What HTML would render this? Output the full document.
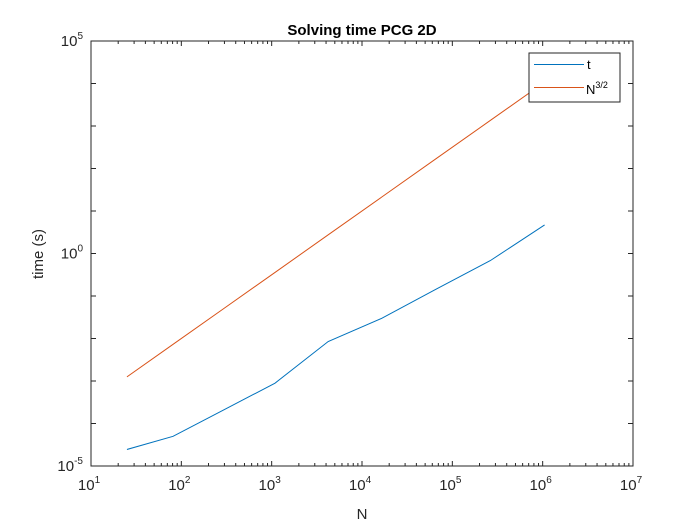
<!DOCTYPE html>
<html><head><meta charset="utf-8"><style>
body{margin:0;background:#fff;}
svg text{font-family:"Liberation Sans",Arial,sans-serif;}
</style></head><body>
<svg id="chart" width="700" height="525" xmlns="http://www.w3.org/2000/svg">
<rect width="700" height="525" fill="#ffffff"/>
<g id="plot"></g>
</svg>
<script>
const nValues=[25,81,289,1089,4225,16641,66049,263169,1050625];
const timeValues=[2.45e-5,5.0e-5,2.04e-4,8.9e-4,8.5e-3,3.0e-2,1.45e-1,6.8e-1,4.7];
const refValues=[1.25e-3,7.29e-3,4.91e-2,3.59e-1,2.75,21.5,170,1350,10770];
const xTickExps=[1,2,3,4,5,6,7];
const yTickExps=[-5,0,5];
const L=91,R=633,T=41,B=466;
const ns="http://www.w3.org/2000/svg";
const g=document.getElementById('plot');
function xs(v){return L+(Math.log10(v)-1)/6*(R-L);}
function ys(v){return B-(Math.log10(v)+5)/10*(B-T);}
function mk(t,a,p){const e=document.createElementNS(ns,t);for(const k in a)e.setAttribute(k,a[k]);(p||g).appendChild(e);return e;}
let e=mk('rect',{x:L,y:T,width:R-L,height:B-T,fill:'#fff',stroke:'#262626','stroke-width':1});


// x ticks
for(let d=1;d<=7;d++){for(let m=1;m<=9;m++){if(d==7&&m>1)break;const v=m*Math.pow(10,d);const x=xs(v);const len=m==1?5:3;
mk('line',{x1:x,y1:B,x2:x,y2:B-len,stroke:'#262626'});mk('line',{x1:x,y1:T,x2:x,y2:T+len,stroke:'#262626'});}}
for(let d=-5;d<=5;d++){const y=ys(Math.pow(10,d));mk('line',{x1:L,y1:y,x2:L+5,y2:y,stroke:'#262626'});mk('line',{x1:R,y1:y,x2:R-5,y2:y,stroke:'#262626'});}
xTickExps.forEach(d=>{const t=mk('text',{x:xs(Math.pow(10,d))-2,y:B+24,'font-size':15,'text-anchor':'middle',fill:'#262626'});


t.textContent='10';const s=mk('tspan',{dy:-7,'font-size':10},t);s.textContent=d;});
yTickExps.forEach(d=>{const t=mk('text',{x:L-8,y:ys(Math.pow(10,d))+5,'font-size':15,'text-anchor':'end',fill:'#262626'});


const a=mk('tspan',{},t);a.textContent='10';const s=mk('tspan',{dy:-7,'font-size':10},t);s.textContent=d;});
function series(vals,color,name){const p=mk('polyline',{points:nValues.map((n,i)=>xs(n)+','+ys(vals[i])).join(' '),fill:'none',stroke:color,'stroke-width':1});

}
series(refValues,'#d95319','series-n32');
series(timeValues,'#0072bd','series-t');
// legend
const lg=mk('g',{});


mk('rect',{x:529,y:53,width:91,height:49,fill:'#fff',stroke:'#262626'},lg);
mk('line',{x1:534,y1:64.5,x2:584,y2:64.5,stroke:'#0072bd'},lg);
mk('line',{x1:534,y1:87.5,x2:584,y2:87.5,stroke:'#d95319'},lg);
let t1=mk('text',{x:587,y:69,'font-size':13,fill:'#000'},lg);t1.textContent='t';
let t2=mk('text',{x:586,y:94,'font-size':13,fill:'#000'},lg);t2.textContent='N';let sp=mk('tspan',{dy:-6,'font-size':9},t2);sp.textContent='3/2';
// titles
let tt=mk('text',{x:362,y:35,'font-size':15,'font-weight':'bold','text-anchor':'middle',fill:'#000'});tt.textContent='Solving time PCG 2D';


let xt=mk('text',{x:362,y:519,'font-size':15,'text-anchor':'middle',fill:'#262626'});xt.textContent='N';


let yt=mk('text',{x:0,y:0,'font-size':15,'text-anchor':'middle',fill:'#262626',transform:'translate(43,254) rotate(-90)'});yt.textContent='time (s)';


</script>
</body></html>
